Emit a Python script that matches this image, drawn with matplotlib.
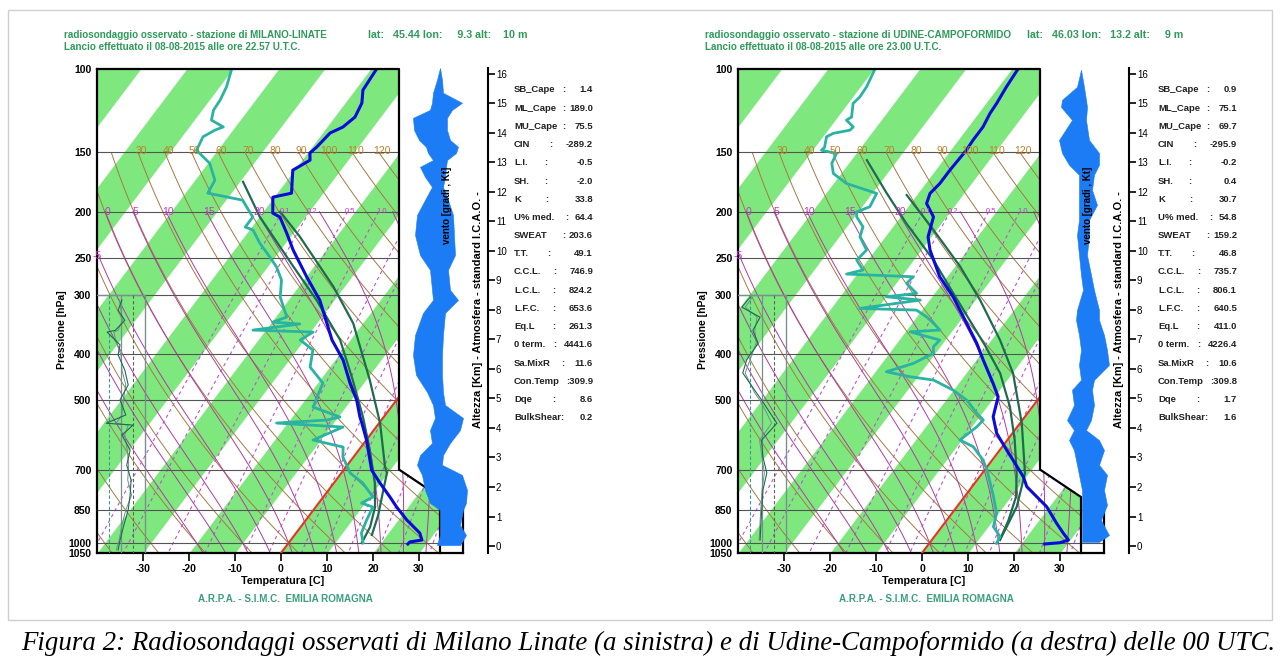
import numpy as np
import matplotlib
matplotlib.use("Agg")
import matplotlib.pyplot as plt
from matplotlib.patches import Polygon, Rectangle
from matplotlib.ticker import NullLocator, NullFormatter

plt.rcParams['font.family'] = ['Liberation Sans', 'DejaVu Sans']
plt.rcParams['axes.unicode_minus'] = False

# ---------------- chart data ----------------
pressure_levels = [100, 150, 200, 250, 300, 400, 500, 700, 850, 1000, 1050]
grid_pressures = [150, 200, 250, 300, 400, 500, 700, 850, 1000]
temp_ticks = [-30, -20, -10, 0, 10, 20, 30]
height_ticks = list(range(0, 17))
band_starts = list(range(-120, 40, 20))          # green isotherm bands [T, T+10]
dry_theta = list(range(-40, 201, 10))            # dry adiabats (theta, C)
dry_labels = [30, 40, 50, 60, 70, 80, 90, 100, 110, 120]
moist_thetaw = list(range(-20, 36, 5))           # saturated adiabats (theta_w, C)
moist_labels = [0, 5, 10, 15, 20]
mix_ratios = [0.1, 0.2, 0.5, 1.0, 2.0, 3.0, 5.0, 7.0, 10.0, 15.0, 20.0, 30.0]
mix_labels = [0.1, 0.2, 0.5, 1.0]

# Milano Linate
mil_T_p = [100, 110.8, 118.0, 126.3, 132.6, 136.5, 146.2, 150.4, 155.7, 163.5, 182.8, 186.4, 201.4, 205.3,
           221.9, 241, 274.8, 307.3, 373, 411, 460, 499, 542, 558, 606, 702, 747, 800, 840, 894, 953, 986, 995, 1005]
mil_T = [-58.7, -58.2, -56.3, -55.5, -56.5, -58.3, -58.9, -59.4, -58.2, -60.3, -56.8, -60.2, -57.6, -55.4,
         -51.3, -47.1, -39.7, -33.1, -23.9, -18.2, -12.9, -8.7, -5.2, -3.8, 0.0, 6.1, 10.0, 14.5, 17.6, 21.9, 26.9, 28.5, 26.2, 26.1]
mil_Td_p = [100, 109, 116.3, 122.1, 128.2, 132.5, 134.6, 139, 148.4, 158.1, 171.6, 182.8, 189.1, 205.3, 215.5,
            218.7, 233, 249.4, 261.8, 278.9, 302.8, 333.7, 342, 345.2, 355.5, 359, 373, 391.7, 425.5, 459.9,
            516.7, 542.4, 550.4, 558.5, 569.4, 606.5, 627.5, 658.8, 711.9, 747.4, 800, 823.6, 839.8, 894.5, 952.9, 1000]
mil_Td = [-90.2, -88.4, -87.6, -87.4, -86.2, -82.5, -83.8, -85.3, -84.5, -79.5, -75.6, -75.0, -66.3, -61.3, -61.3,
          -59.1, -55.5, -51.0, -47.9, -44.7, -42.2, -37.5, -39.7, -33.5, -42.7, -29.3, -30.8, -26.4, -24.2, -18.8,
          -17.0, -9.5, -11.9, -22.3, -7.2, -11.6, -3.9, -2.3, 1.9, 6.3, 10.8, 9.3, 12.4, 13.2, 14.2, 16.2]
mil_parA_p = [173.0, 205.1, 261.3, 307.3, 373.2, 453.2, 542.4, 636.7, 747.4, 839.8, 925.5, 1000]
mil_parA = [-69.2, -59.8, -44.3, -33.8, -22.1, -12.8, -4.5, 2.4, 8.9, 12.9, 15.1, 15.9]
mil_parB_p = [200.1, 226, 288.1, 344.1, 453.2, 558.5, 691.5, 711.9, 773.2, 873, 962]
mil_parB = [-56.2, -47.8, -32.3, -22.0, -9.1, 0.2, 8.5, 9.9, 11.9, 14.9, 16.8]
mil_ins_p = [307, 323, 339, 356, 359, 382, 401, 432, 464, 499, 537, 559, 564, 592, 637, 685, 737, 792, 852, 916, 986, 1035]
mil_ins_1 = [52, 44, 58, 38, 21, 48, 44, 58, 65, 48, 60, 19, 75, 52, 69, 62, 71, 69, 65, 56, 48, 44]
mil_ins_2 = [47, 50, 53, 44, 35, 42, 50, 52, 60, 55, 52, 40, 65, 58, 63, 66, 64, 72, 60, 52, 46, 40]
mil_wind_h = [16.20, 15.80, 15.36, 15.02, 14.78, 14.51, 14.10, 13.76, 13.53, 13.32, 13.08, 12.85, 12.51, 12.17,
              11.73, 11.22, 10.54, 9.86, 9.36, 8.68, 8.34, 7.90, 7.15, 6.47, 5.80, 5.22, 4.78, 4.34, 3.93, 3.49,
              3.08, 2.75, 2.41, 1.90, 1.46, 1.22, 0.71, 0.37, 0.03]
mil_wind_l = [0, -0.3, -0.7, -0.8, -1.0, -2.7, -2.6, -2.1, -1.4, -1.2, -0.7, -2.0, -1.5, -0.8, -1.5, -2.3, -2.5,
              -2.0, -1.0, -0.8, -0.7, -1.7, -2.5, -2.7, -2.4, -1.3, -0.7, -0.5, -1.0, -0.8, -2.0, -2.3, -1.8, -1.5,
              -1.0, 0.0, 0.0, 0.0, -0.3]
mil_wind_r = [0, 0.2, 0.3, 2.2, 1.2, 0.7, 0.7, 1.0, 1.8, 1.6, 0.7, 0.6, 0.5, 0.3, 0.8, 1.3, 1.4, 1.5, 0.8, 1.0,
              1.8, 0.5, 0.3, 0.2, 0.2, 0.3, 0.5, 2.3, 2.0, 1.0, 0.3, 0.2, 2.2, 2.7, 2.6, 2.3, 2.0, 2.6, 2.0]
mil_values = ['1.4', '189.0', '75.5', '-289.2', '-0.5', '-2.0', '33.8', '64.4', '203.6', '49.1', '746.9',
              '824.2', '653.6', '261.3', '4441.6', '11.6', '309.9', '8.6', '0.2']

# Udine Campoformido
udi_T_p = [100, 109, 118.2, 124.1, 132.5, 141.3, 148.4, 163.5, 174.4, 183, 192.2, 205.1, 218.7, 226, 241, 274.4,
           302.4, 344.1, 379.3, 411, 460.5, 491.5, 541.7, 587.2, 636.7, 679.2, 724.8, 760.9, 798.8, 838.5, 909,
           954.2, 985.7, 998.8, 1005]
udi_T = [-58.6, -58.2, -57.6, -57.4, -56.7, -56.7, -56.5, -56.8, -56.8, -57.3, -56.4, -52.7, -51.3, -50.6, -48.0,
         -41.5, -35.3, -28.0, -22.5, -18.4, -12.4, -9.1, -6.9, -3.4, 1.5, 5.5, 9.5, 11.9, 15.7, 19.5, 24.4, 27.5,
         29.7, 28.3, 25.2]
udi_Td_p = [100, 109, 114.5, 118.2, 126.3, 128.2, 132.5, 134.6, 136.7, 139, 146.3, 148.4, 150.7, 158.1, 166.1,
            174.4, 183, 195.3, 200.1, 205.1, 215.2, 226, 241, 253, 265.5, 270.8, 274.4, 283.4, 297.5, 302.4, 307.3,
            320, 322.6, 333.3, 344.1, 355.5, 358.5, 373.2, 385.5, 398, 417.9, 435.3, 446, 453.2, 475.8, 499.4,
            532.8, 550.4, 568.6, 606.5, 626.6, 668.4, 701.6, 748.5, 798.8, 865.8, 924.1, 970, 1001.7]
udi_Td = [-89.7, -88.6, -88.4, -88.8, -86.9, -87.5, -84.9, -85.1, -88.2, -89.1, -87.8, -88.0, -84.2, -83.6, -81.6,
          -77.1, -68.9, -68.2, -70.2, -69.4, -66.4, -65.4, -61.8, -62.3, -59.3, -62.2, -47.3, -47.6, -43.8, -49.8,
          -41.9, -53.7, -41.1, -37.8, -35.2, -32.7, -38.9, -31.1, -31.4, -30.3, -33.0, -37.5, -31.5, -25.9, -20.0,
          -15.4, -11.0, -8.5, -8.8, -10.3, -6.3, -2.0, 0.5, 3.4, 6.3, 9.7, 11.2, 14.3, 14.6]
udi_parA_p = [155.7, 183, 211.8, 253, 297.5, 382.3, 438.7, 516, 606.5, 713, 798.8, 894.5, 985.7]
udi_parA = [-76.5, -66.7, -57.5, -45.6, -35.8, -20.5, -12.5, -4.9, 1.6, 7.5, 11.2, 13.4, 14.8]
udi_parB_p = [184.5, 218.7, 261.3, 307.3, 373.2, 438.7, 559.2, 713, 838.5, 924.1, 985.7]
udi_parB = [-62.1, -50.5, -38.7, -28.9, -18.0, -9.7, 0.4, 9.3, 13.0, 14.1, 14.8]
udi_ins_p = [303, 318, 334, 356, 379, 411, 438, 483, 499, 532, 559, 607, 659, 712, 773, 865, 986]
udi_ins_1 = [25, 8, 46, 31, 42, 18, 10, 39, 49, 67, 81, 49, 52, 60, 52, 49, 46]
udi_ins_2 = [30, 15, 40, 35, 38, 25, 15, 35, 45, 60, 70, 45, 50, 55, 50, 47, 44]
udi_wind_h = [16.14, 15.56, 15.12, 14.88, 14.44, 13.76, 13.32, 12.92, 12.58, 12.07, 11.56, 11.05, 10.54, 9.86,
              9.19, 8.68, 8.0, 7.66, 7.15, 6.64, 6.14, 5.63, 5.29, 4.78, 4.27, 3.93, 3.59, 3.25, 2.75, 2.41, 1.90,
              1.39, 0.88, 0.37, 0.14]
udi_wind_l = [0, -0.4, -1.9, -2.0, -0.9, -2.2, -1.9, -1.2, -0.2, -0.2, -0.2, -0.2, -0.4, -0.2, 0, 0.2, -0.4,
              -0.5, -0.2, 0, -0.2, 0, -0.9, -0.7, -1.4, -0.7, -1.2, -0.7, -0.4, -0.2, 0.1, 0.1, 0.1, 0.1, 0.1]
udi_wind_r = [0, 0.3, 0.5, 0.6, 0.5, 0.8, 1.8, 1.8, 1.3, 1.1, 1.6, 0.8, 0.8, 0.6, 1.0, 1.3, 1.8, 1.8, 2.3, 2.6,
              2.8, 1.3, 1.1, 1.3, 1.0, 0.5, 1.8, 2.3, 1.8, 2.6, 2.3, 2.6, 2.0, 2.8, 1.8]
udi_values = ['0.9', '75.1', '69.7', '-295.9', '-0.2', '0.4', '30.7', '54.8', '159.2', '46.8', '735.7',
              '806.1', '640.5', '411.0', '4226.4', '10.6', '309.8', '1.7', '1.6']

table_labels = ['SB_Cape', 'ML_Cape', 'MU_Cape', 'CIN', 'L.I.', 'SH.', 'K', 'U% med.', 'SWEAT', 'T.T.',
                'C.C.L.', 'L.C.L.', 'L.F.C.', 'Eq.L', '0 term.', 'Sa.MixR', 'Con.Temp', 'Dqe', 'BulkShear:']
colon_dx = [48, 48, 48, 35, 30, 30, 31, 51, 48, 33, 39, 38, 38, 38, 39, 47, None, 38, None]

stations = [
    dict(dx=0, tdx=0, name='radiosondaggio osservato - stazione di MILANO-LINATE', tw1=264,
         latx=368, lat='lat:   45.44 lon:     9.3 alt:    10 m', latw=160,
         launch='Lancio effettuato il 08-08-2015 alle ore 22.57 U.T.C.',
         T_p=mil_T_p, T=mil_T, Td_p=mil_Td_p, Td=mil_Td, pA_p=mil_parA_p, pA=mil_parA,
         pB_p=mil_parB_p, pB=mil_parB, ins_p=mil_ins_p, ins1=mil_ins_1, ins2=mil_ins_2,
         wh=mil_wind_h, wl=mil_wind_l, wr=mil_wind_r, vals=mil_values),
    dict(dx=641, tdx=644, name='radiosondaggio osservato - stazione di UDINE-CAMPOFORMIDO', tw1=307,
         latx=1027, lat='lat:   46.03 lon:   13.2 alt:     9 m', latw=156,
         launch='Lancio effettuato il 08-08-2015 alle ore 23.00 U.T.C.',
         T_p=udi_T_p, T=udi_T, Td_p=udi_Td_p, Td=udi_Td, pA_p=udi_parA_p, pA=udi_parA,
         pB_p=udi_parB_p, pB=udi_parB, ins_p=udi_ins_p, ins1=udi_ins_1, ins2=udi_ins_2,
         wh=udi_wind_h, wl=udi_wind_l, wr=udi_wind_r, vals=udi_values),
]
caption = ('Figura 2: Radiosondaggi osservati di Milano Linate (a sinistra) e di '
           'Udine-Campoformido (a destra) delle 00 UTC.')

# ---------------- style ----------------
GREEN = '#7ee87e'
BROWN = '#a57a45'
BROWN_TXT = '#c0802a'
MAGENTA = '#b23aa0'
MAG_TXT = '#cc33cc'
MIXC = '#c050d0'
TCOL = '#0a0adc'
TDCOL = '#2ab3a3'
PARC = '#1e6b50'
WIND = '#1b7cf5'
TITLE_G = '#2f9a5a'
ARPA_G = '#3a9f7c'

K = 33.8            # skew (deg C per unit of ln p)
PX_PER_C = 4.6
XL, XR1, XR2, XR3 = -40.0, (399 - 281) / PX_PER_C, (440 - 281) / PX_PER_C, (463 - 281) / PX_PER_C
XINS = (145 - 281) / PX_PER_C

W, H = 1280, 661
fig = plt.figure(figsize=(W / 100, H / 100), dpi=100)
fig.patch.set_facecolor('white')
R = fig.canvas.get_renderer()


def px_axes(x0, y0, x1, y1, z=1):
    return fig.add_axes([x0 / W, 1 - y1 / H, (x1 - x0) / W, (y1 - y0) / H], zorder=z)


def ftext(x, y, s, **kw):
    return fig.text(x / W, 1 - y / H, s, **kw)


def fit(t, target, vertical=False):
    bb = t.get_window_extent(renderer=R)
    cur = bb.height if vertical else bb.width
    t.set_fontsize(t.get_fontsize() * target / cur)


def skew(T, p):
    return np.asarray(T, float) + K * np.log(1050.0 / np.asarray(p, float))


def dTdp(T, p):
    es = 6.112 * np.exp(17.67 * (T - 273.15) / (T - 29.65))
    rs = 0.622 * es / (p - es)
    return (287.04 * T + 2.501e6 * rs) / (p * (1005.7 + 2.501e6 ** 2 * rs * 0.622 / (287.04 * T * T)))


def integ(T0, ps):
    T = np.empty_like(ps)
    T[0] = T0
    for i in range(len(ps) - 1):
        dp = ps[i + 1] - ps[i]
        k1 = dTdp(T[i], ps[i])
        k2 = dTdp(T[i] + 0.5 * dp * k1, ps[i] + 0.5 * dp)
        T[i + 1] = T[i] + dp * k2
    return T


p_up = np.linspace(1000, 200, 801)
p_dn = np.linspace(1000, 1050, 51)
moist_curves = {}
for tw in moist_thetaw:
    tu = integ(tw + 273.15, p_up)
    td = integ(tw + 273.15, p_dn)
    pp = np.concatenate([p_dn[::-1], p_up[1:]])
    tt = np.concatenate([td[::-1], tu[1:]]) - 273.15
    moist_curves[tw] = (pp, tt)


def mix_td(w, p):
    e = w * p / (622.0 + w)
    a = np.log(e / 6.112)
    return 243.5 * a / (17.67 - a)


def draw_panel(st):
    dx = st['dx']
    ax = px_axes(97 + dx, 69, 463 + dx, 553, z=1)
    ax.set_yscale('log')
    ax.set_ylim(1050, 100)
    ax.set_xlim(XL, XR3)
    ax.patch.set_alpha(0)
    for s in ['top', 'right']:
        ax.spines[s].set_visible(False)
    for s in ['left', 'bottom']:
        ax.spines[s].set_linewidth(1.6)
    ax.set_xticks(temp_ticks)
    ax.set_xticklabels([str(t) for t in temp_ticks], fontweight='bold')
    ax.tick_params(axis='x', direction='out', length=6, width=1.2, labelsize=7.5, pad=2)
    ax.yaxis.set_minor_locator(NullLocator())
    ax.yaxis.set_minor_formatter(NullFormatter())
    ax.set_yticks(pressure_levels)
    ax.set_yticklabels([str(p) for p in pressure_levels], fontweight='bold')
    ax.tick_params(axis='y', length=0, labelsize=7.5, pad=4)

    clip = Polygon([(XL, 100), (XR1, 100), (XR1, 700), (XR2, 800), (XR2, 1050), (XL, 1050)],
                   closed=True, transform=ax.transData)

    pg = np.geomspace(100, 1050, 300)
    for t0 in band_starts:
        c = ax.fill_betweenx(pg, skew(t0, pg), skew(t0 + 10, pg), color=GREEN, lw=0, zorder=1)
        c.set_clip_path(clip)

    # dry adiabats
    pd = np.geomspace(150, 1050, 200)
    for th in dry_theta:
        T = (th + 273.15) * (pd / 1000.0) ** 0.2857 - 273.15
        ln, = ax.plot(skew(T, pd), pd, color=BROWN, lw=0.7, zorder=2)
        ln.set_clip_path(clip)
    for th in dry_labels:
        T150 = (th + 273.15) * 0.15 ** 0.2857 - 273.15
        ax.text(skew(T150, 150) + 0.7, 151, str(th), color=BROWN_TXT, fontsize=7.5,
                ha='center', va='baseline', zorder=7)

    # saturated adiabats
    for tw in moist_thetaw:
        pp, tt = moist_curves[tw]
        ln, = ax.plot(skew(tt, pp), pp, color=MAGENTA, lw=0.7, zorder=2)
        ln.set_clip_path(clip)
    for tw in moist_labels:
        pp, tt = moist_curves[tw]
        ax.text(skew(tt[-1], 200) + 0.5, 200, str(tw), color=MAG_TXT, fontsize=7.5,
                ha='center', va='center', zorder=7)
    ax.text((93 - 281) / PX_PER_C, 248, '-5', color=MAG_TXT, fontsize=7.5, ha='left',
            va='center', zorder=7, clip_on=False)

    # mixing ratio lines
    pm = np.geomspace(200, 1050, 100)
    for w in mix_ratios:
        ln, = ax.plot(skew(mix_td(w, pm), pm), pm, color=MIXC, lw=0.8, ls=(0, (3, 3)), zorder=2)
        ln.set_clip_path(clip)
    for w in mix_labels:
        ax.text(skew(mix_td(w, 200.0), 200) + 0.6, 200, '%.1f' % w, color=MAG_TXT, fontsize=5.5,
                ha='center', va='center', zorder=7)

    # pressure grid
    for p in grid_pressures:
        xe = XR3 if p >= 850 else XR1
        ax.plot([XL, xe], [p, p], color='#555555', lw=0.8, zorder=2.5)

    # 0 C isotherm
    ln, = ax.plot(skew(0, pg), pg, color='#e8321e', lw=1.5, zorder=3)
    ln.set_clip_path(clip)

    # inset box (bottom-left)
    def ix(v):
        return XL + np.asarray(v, float) / 100.0 * (XINS - XL)
    ax.plot([XL, XINS, XINS], [300, 300, 1050], color='#7a8f8f', lw=1.0, zorder=3)
    ax.plot([ix(25)] * 2, [300, 1050], color='#3a9a9a', lw=0.8, ls=(0, (3, 2)), zorder=3)
    ax.plot([ix(50)] * 2, [300, 1050], color='#7a8f8f', lw=0.9, zorder=3)
    ax.plot([ix(75)] * 2, [300, 1050], color='#606060', lw=0.8, ls=(0, (3, 2)), zorder=3)
    ax.plot(ix(st['ins2']), st['ins_p'], color='#6f8f8f', lw=0.7, zorder=3)
    ax.plot(ix(st['ins1']), st['ins_p'], color=PARC, lw=0.8, zorder=3)

    # profiles
    for pp, tt, col, lw in [(st['pA_p'], st['pA'], PARC, 1.6), (st['pB_p'], st['pB'], PARC, 1.6),
                            (st['Td_p'], st['Td'], TDCOL, 2.0), (st['T_p'], st['T'], TCOL, 2.2)]:
        ln, = ax.plot(skew(tt, pp), pp, color=col, lw=lw, zorder=4, solid_joinstyle='round')
        ln.set_clip_path(clip)

    # frame
    ax.plot([XL, XR1, XR1, XR2, XR2], [100, 100, 700, 800, 1050], color='k', lw=1.6,
            zorder=6, clip_on=False)
    ax.plot([XR3, XR3], [850, 1050], color='k', lw=1.6, zorder=6, clip_on=False)

    # wind profile
    wax = px_axes(405 + dx, 68, 475 + dx, 553, z=3)
    wax.set_xlim(-3.5, 3.5)
    wax.set_ylim(-0.237, 16.2)
    wax.axis('off')
    wax.fill_betweenx(st['wh'], st['wl'], st['wr'], color=WIND, lw=0.4, edgecolor=WIND)

    # height axis
    hax = px_axes(487 + dx, 68, 487.6 + dx, 553, z=3)
    hax.set_ylim(-0.237, 16.2)
    hax.patch.set_alpha(0)
    for s in ['top', 'bottom', 'left']:
        hax.spines[s].set_visible(False)
    hax.spines['right'].set_linewidth(1.5)
    hax.set_xticks([])
    hax.yaxis.tick_right()
    hax.set_yticks(height_ticks)
    hax.set_yticklabels([str(h) for h in height_ticks])
    hax.tick_params(axis='y', direction='out', length=5, width=1.2, labelsize=7, pad=1)

    # texts
    t = ftext(64 + dx, 35, st['name'], color=TITLE_G, fontsize=7, fontweight='bold', ha='left', va='center')
    fit(t, st['tw1'])
    t = ftext(st['latx'], 35, st['lat'], color=TITLE_G, fontsize=7, fontweight='bold', ha='left', va='center')
    fit(t, st['latw'])
    t = ftext(64 + dx, 47, st['launch'], color=TITLE_G, fontsize=7, fontweight='bold', ha='left', va='center')
    fit(t, 237)
    ftext(62 + dx, 330, 'Pressione [hPa]', rotation=90, fontsize=7.5, fontweight='bold',
          ha='center', va='center')
    t = ftext(283 + dx, 581, 'Temperatura [C]', fontsize=7.5, fontweight='bold', ha='center', va='center')
    fit(t, 83)
    t = ftext(285 + dx, 599, 'A.R.P.A. - S.I.M.C.  EMILIA ROMAGNA', color=ARPA_G, fontsize=7,
              fontweight='bold', ha='center', va='center')
    fit(t, 175)
    t = ftext(478 + dx, 310, 'Altezza [Km] - Atmosfera - standard I.C.A.O. -', rotation=90,
              fontsize=7, fontweight='bold', ha='center', va='center')
    fit(t, 235, vertical=True)
    ftext(447 + dx, 205, 'vento [gradi , Kt]', rotation=90, fontsize=7, fontweight='bold',
          ha='center', va='center', zorder=5)

    # index table
    tdx = st['tdx']
    for i, lab in enumerate(table_labels):
        y = 90 + i * 18.2
        ftext(514 + tdx, y, lab, fontsize=6.8, fontweight='bold', color='#222222', ha='left', va='center')
        if colon_dx[i] is not None:
            ftext(514 + tdx + colon_dx[i], y, ':', fontsize=6.8, fontweight='bold', color='#222222',
                  ha='left', va='center')
        v = st['vals'][i]
        if lab == 'Con.Temp':
            v = ':' + v
        ftext(593 + tdx, y, v, fontsize=6.8, fontweight='bold', color='#222222', ha='right', va='center')


for st in stations:
    draw_panel(st)

# outer light frame
fig.add_artist(Rectangle((8 / W, 1 - 620 / H), (1272 - 8) / W, (620 - 10) / H, transform=fig.transFigure,
                         fill=False, edgecolor='#cfcfcf', lw=1.0))

t = ftext(648.5, 650, caption, family='Liberation Serif', style='italic', fontsize=19,
          ha='center', va='baseline')
fit(t, 1253)

fig.savefig('out.png', dpi=100, facecolor='white')
